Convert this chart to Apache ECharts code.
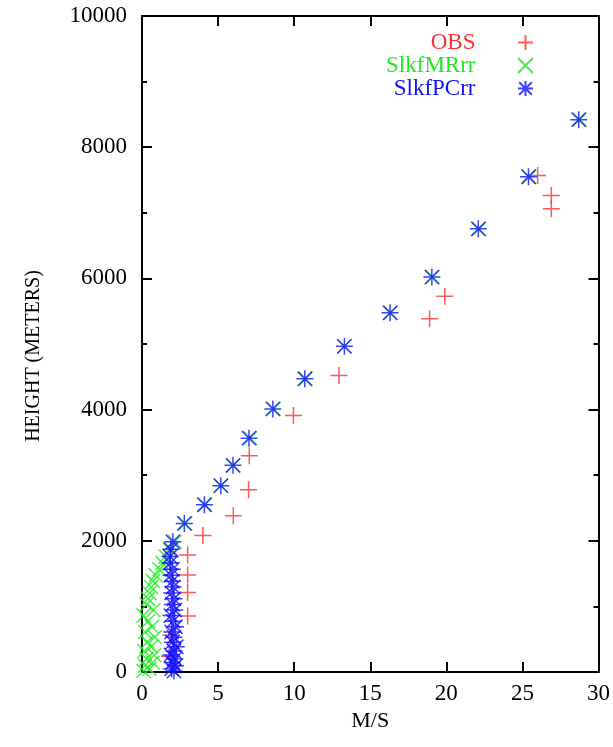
<!DOCTYPE html>
<html>
<head>
<meta charset="utf-8">
<script src="https://cdn.jsdelivr.net/npm/echarts@6/dist/echarts.min.js"></script>
<style>
  html, body { margin: 0; padding: 0; background: #fff; }
  #chart { width: 613px; height: 747px; }
</style>
</head>
<body>
<div id="chart"></div>
<script>
// observed wind speed (m/s) and height (m)
const obsSpeed = [1.8, 1.9, 3.0, 3.0, 3.0, 3.0, 4.0, 6.0, 7.0, 7.05, 9.95, 12.95, 18.9, 19.9, 26.9, 26.9, 26.0]
const obsHeight = [240, 560, 854, 1210, 1480, 1785, 2080, 2380, 2777, 3295, 3910, 4520, 5385, 5726, 7063, 7262, 7567]

// model levels (m), shared by both runs
const modelHeight = [15, 50, 95, 145, 200, 260, 320, 385, 455, 530, 610, 690, 775, 860, 945,
  1030, 1115, 1205, 1295, 1385, 1475, 1565, 1660, 1760, 1870, 1985,
  2265, 2550, 2840, 3150, 3565, 4010, 4470, 4965, 5475, 6020, 6755, 7550, 8420]

const mrSpeed = [0.1, 0.5, 0.2, 0.7, 0.3, 0.8, 0.15, 0.6, 0.35, 0.85, 0.2, 0.65, 0.4, 0.1, 0.75,
  0.3, 0.4, 0.5, 0.6, 0.72, 0.9, 1.15, 1.35, 1.55, 1.8, 2.15,
  2.85, 4.15, 5.2, 6.0, 7.1, 8.65, 10.75, 13.3, 16.35, 19.1, 22.15, 25.45, 28.75]

const pcSpeed = [2.1, 1.95, 2.2, 2.0, 2.15, 1.9, 2.1, 2.25, 2.0, 2.1, 1.95, 2.2, 2.05, 1.9, 2.15,
  2.0, 2.1, 1.95, 2.05, 2.0, 1.9, 2.0, 1.85, 1.85, 1.9, 2.03,
  2.78, 4.1, 5.18, 5.98, 7.03, 8.6, 10.7, 13.3, 16.3, 19.05, 22.1, 25.4, 28.7]

const xTicks = [0, 5, 10, 15, 20, 25, 30]
const yTicks = [0, 2000, 4000, 6000, 8000, 10000]

const seriesNames = ['OBS', 'SlkfMRrr', 'SlkfPCrr']
const seriesColors = ['#ff3030', '#1ee81e', '#1010ff']

const plusPath = 'path://M0,5L10,5M5,0L5,10'
const crossPath = 'path://M0,0L10,10M10,0L0,10'
const starPath = 'path://M0,5L10,5M5,0L5,10M0.8,0.8L9.2,9.2M9.2,0.8L0.8,9.2'

const pairs = (xs, ys) => xs.map((x, i) => [x, ys[i]])

const font = 'Liberation Serif'
const chart = echarts.init(document.getElementById('chart'))

const markerSeries = (idx, path, size, xs, ys) => ({
  name: seriesNames[idx],
  type: 'scatter',
  symbol: path,
  symbolSize: size,
  symbolKeepAspect: true,
  itemStyle: {
    color: 'rgba(0,0,0,0)',
    borderColor: seriesColors[idx],
    borderWidth: 1.5
  },
  emphasis: { disabled: true },
  data: pairs(xs, ys)
})

const frameLine = { onZero: false, lineStyle: { color: '#000', width: 2 } }
const xAxisBase = {
  type: 'value',
  min: xTicks[0],
  max: xTicks[xTicks.length - 1],
  interval: 5,
  splitLine: { show: false },
  axisLine: frameLine,
  axisTick: { inside: true, length: 10, lineStyle: { color: '#000', width: 2 } }
}
const yAxisBase = {
  type: 'value',
  min: yTicks[0],
  max: yTicks[yTicks.length - 1],
  interval: 2000,
  splitLine: { show: false },
  axisLine: frameLine,
  axisTick: { inside: true, length: 10, lineStyle: { color: '#000', width: 2 } },
  minorTick: { show: true, splitNumber: 2, length: 5, lineStyle: { color: '#000', width: 2 } }
}

chart.setOption({
  animation: false,
  backgroundColor: '#fff',
  grid: { left: 142, right: 14, top: 16, bottom: 75 },
  legend: {
    right: 74,
    top: 26,
    orient: 'vertical',
    align: 'right',
    itemWidth: 90,
    itemHeight: 15,
    itemGap: 0,
    selectedMode: false,
    textStyle: { fontFamily: font, fontSize: 23, lineHeight: 23 },
    data: seriesNames.map((n, i) => ({ name: n, textStyle: { color: seriesColors[i] } }))
  },
  xAxis: [
    Object.assign({}, xAxisBase, {
      position: 'bottom',
      name: 'M/S',
      nameLocation: 'middle',
      nameGap: 38,
      nameTextStyle: { fontFamily: font, fontSize: 22, color: '#000', verticalAlign: 'top' },
      axisLabel: { margin: 10, fontFamily: font, fontSize: 23, color: '#000' }
    }),
    Object.assign({}, xAxisBase, { position: 'top', axisLabel: { show: false } })
  ],
  yAxis: [
    Object.assign({}, yAxisBase, {
      position: 'left',
      name: 'HEIGHT (METERS)',
      nameLocation: 'middle',
      nameGap: 98,
      nameTextStyle: { fontFamily: font, fontSize: 20, color: '#000', padding: [0, 24, 0, 0] },
      axisLabel: { margin: 15, fontFamily: font, fontSize: 23, color: '#000', formatter: v => String(v) }
    }),
    Object.assign({}, yAxisBase, { position: 'right', axisLabel: { show: false } })
  ],
  series: [
    markerSeries(0, plusPath, 17, obsSpeed, obsHeight),
    markerSeries(1, crossPath, 14, mrSpeed, modelHeight),
    markerSeries(2, starPath, 17, pcSpeed, modelHeight)
  ]
})
</script>
</body>
</html>
